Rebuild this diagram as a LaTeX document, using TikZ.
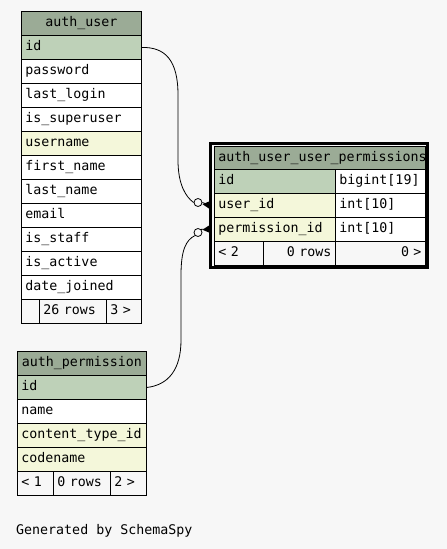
\documentclass[tikz,border=0pt]{standalone}
\usepackage{fontspec}
\newfontfamily\schemafont{DejaVu Sans Mono}
\usetikzlibrary{calc}

\definecolor{canvas}{HTML}{F7F7F7}
\definecolor{headgreen}{HTML}{9BAB96}
\definecolor{keygreen}{HTML}{BED1B8}
\definecolor{indexyellow}{HTML}{F4F7DA}
\definecolor{footgray}{HTML}{F7F7F7}

\begin{document}
\begin{tikzpicture}[x=1pt,y=-1pt,
  cell/.style={draw=black, line width=0.9pt, anchor=north west,
    inner xsep=4pt, inner ysep=0pt, minimum height=24pt,
    text height=9.5pt, text depth=2.5pt, align=left,
    font=\schemafont\fontsize{13.3pt}{16pt}\selectfont},
  head/.style={cell, fill=headgreen, align=center},
  pkey/.style={cell, fill=keygreen},
  idx/.style={cell, fill=indexyellow},
  plain/.style={cell, fill=white},
  foot/.style={cell, fill=footgray},
  rel/.style={draw=black, line width=0.8pt},
  ring/.style={circle, draw=black, line width=0.8pt, fill=canvas,
    minimum size=8pt, inner sep=0pt},
  frame/.style={draw=black, line width=3pt},
]
\fill[canvas] (0,0) rectangle (447,549);
\useasboundingbox (0,0) rectangle (447,549);

% ---------- auth_user ----------
\node[head,  text width=112pt] (u-head) at (21,11)  {auth\_user};
\node[pkey,  text width=112pt] (u-id)   at (21,35)  {id};
\node[plain, text width=112pt] (u-pw)   at (21,59)  {password};
\node[plain, text width=112pt] (u-ll)   at (21,83)  {last\_login};
\node[plain, text width=112pt] (u-su)   at (21,107) {is\_superuser};
\node[idx,   text width=112pt] (u-un)   at (21,131) {username};
\node[plain, text width=112pt] (u-fn)   at (21,155) {first\_name};
\node[plain, text width=112pt] (u-ln)   at (21,179) {last\_name};
\node[plain, text width=112pt] (u-em)   at (21,203) {email};
\node[plain, text width=112pt] (u-st)   at (21,227) {is\_staff};
\node[plain, text width=112pt] (u-ac)   at (21,251) {is\_active};
\node[plain, text width=112pt] (u-dj)   at (21,275) {date\_joined};
\node[foot,  text width=10pt]  (u-f1)   at (21,299)  {};
\node[foot,  text width=59pt]  (u-f2)   at (39,299)  {26 rows};
\node[foot,  text width=27pt]  (u-f3)   at (106,299) {3 >};

% ---------- auth_permission ----------
\node[head,  text width=121pt] (p-head) at (17,351) {auth\_permission};
\node[pkey,  text width=121pt] (p-id)   at (17,375) {id};
\node[plain, text width=121pt] (p-nm)   at (17,399) {name};
\node[idx,   text width=121pt] (p-ct)   at (17,423) {content\_type\_id};
\node[idx,   text width=121pt] (p-cn)   at (17,447) {codename};
\node[foot,  text width=28pt]  (p-f1)   at (17,471)  {< 1};
\node[foot,  text width=49pt]  (p-f2)   at (53,471)  {0 rows};
\node[foot,  text width=28pt]  (p-f3)   at (110,471) {2 >};

% ---------- auth_user_user_permissions ----------
\node[head,  text width=203pt, minimum height=23pt] (m-head) at (214,146) {auth\_user\_user\_permissions};
\node[pkey,  text width=113pt] (m-id)   at (214,169) {id};
\node[plain, text width=82pt]  (m-idt)  at (335,169) {bigint[19]};
\node[idx,   text width=113pt] (m-uid)  at (214,193) {user\_id};
\node[plain, text width=82pt]  (m-uidt) at (335,193) {int[10]};
\node[idx,   text width=113pt] (m-pid)  at (214,217) {permission\_id};
\node[plain, text width=82pt]  (m-pidt) at (335,217) {int[10]};
\node[foot,  text width=41pt]  (m-f1)   at (214,241) {< 2};
\node[foot,  text width=64pt, align=right] (m-f2) at (263,241) {0 rows};
\node[foot,  text width=82pt, align=right] (m-f3) at (335,241) {0 >};
\draw[frame] (210.5,143.5) rectangle (427.5,267.5);

% ---------- relationships ----------
\coordinate (t1) at (209,205);
\coordinate (t2) at (209,229);
\node[ring] (o1) at (198,202.5) {};
\node[ring] (o2) at (198,232.5) {};

\draw[rel] (u-id.east) .. controls (165,47) and (178,60) .. (178,95)
  -- (178,160) .. controls (178,185) and (186,197) .. (o1.west);
\draw[rel] (o1.east) -- (t1);
\fill ($(t1)+(0,-3.5)$) -- ($(t1)+(-6.5,-0.8)$) -- ($(t1)+(0,3.5)$) -- cycle;

\draw[rel] (p-id.east) .. controls (168,385) and (181,370) .. (181,340)
  -- (181,275) .. controls (181,250) and (186,240) .. (o2.south west);
\draw[rel] (o2.north east) -- (t2);
\fill ($(t2)+(0,-3.5)$) -- ($(t2)+(-6.5,0.8)$) -- ($(t2)+(0,3.5)$) -- cycle;

% ---------- footer ----------
\node[anchor=base west, inner sep=0pt,
  font=\schemafont\fontsize{13.3pt}{16pt}\selectfont] (credit) at (16,534)
  {Generated by SchemaSpy};
\end{tikzpicture}
\end{document}
